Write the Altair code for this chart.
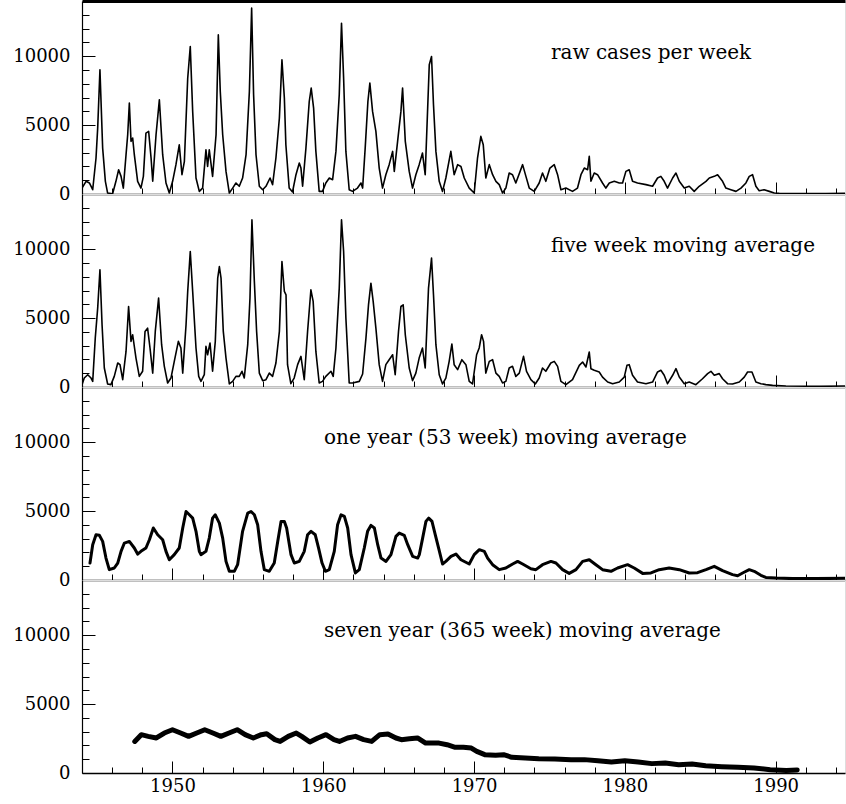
import altair as alt
import pandas as pd

# ---------------- data ----------------
raw_year = [1944.00, 1944.27, 1944.49, 1944.71, 1944.93, 1945.04, 1945.19, 1945.37, 1945.55, 1945.70,
            1946.03, 1946.25, 1946.43, 1946.59, 1946.74, 1946.92, 1947.03, 1947.14, 1947.25, 1947.36,
            1947.47, 1947.69, 1947.91, 1948.07, 1948.24, 1948.42, 1948.58, 1948.69, 1948.91, 1949.13,
            1949.35, 1949.57, 1949.79, 1950.01, 1950.23, 1950.45, 1950.63, 1950.79, 1951.01, 1951.18,
            1951.34, 1951.56, 1951.78, 1952.00, 1952.22, 1952.33, 1952.44, 1952.66, 1952.89, 1953.04,
            1953.17, 1953.33, 1953.55, 1953.77, 1953.99, 1954.21, 1954.43, 1954.65, 1954.88, 1955.10,
            1955.25, 1955.38, 1955.54, 1955.76, 1955.98, 1956.20, 1956.47, 1956.64, 1956.86, 1957.09,
            1957.26, 1957.42, 1957.52, 1957.74, 1957.96, 1958.19, 1958.41, 1958.52, 1958.63, 1958.85,
            1959.07, 1959.20, 1959.36, 1959.51, 1959.73, 1959.95, 1960.17, 1960.40, 1960.62, 1960.84,
            1961.06, 1961.21, 1961.35, 1961.50, 1961.72, 1961.94, 1962.27, 1962.50, 1962.61, 1962.78,
            1962.96, 1963.09, 1963.27, 1963.49, 1963.71, 1963.93, 1964.15, 1964.37, 1964.60, 1964.71,
            1964.93, 1965.15, 1965.26, 1965.44, 1965.70, 1965.92, 1966.14, 1966.36, 1966.58, 1966.76,
            1967.03, 1967.18, 1967.31, 1967.47, 1967.69, 1967.91, 1968.13, 1968.46, 1968.68, 1968.91,
            1969.13, 1969.35, 1969.68, 1970.01, 1970.23, 1970.45, 1970.61, 1970.78, 1971.01, 1971.23,
            1971.45, 1971.67, 1971.89, 1972.11, 1972.33, 1972.55, 1972.77, 1973.22, 1973.44, 1973.66,
            1973.99, 1974.32, 1974.54, 1974.76, 1975.03, 1975.32, 1975.54, 1975.76, 1976.09, 1976.53,
            1976.86, 1977.09, 1977.31, 1977.53, 1977.64, 1977.75, 1977.97, 1978.19, 1978.52, 1978.74,
            1978.97, 1979.30, 1979.63, 1979.85, 1980.07, 1980.29, 1980.51, 1980.84, 1981.40, 1981.84,
            1982.17, 1982.39, 1982.61, 1982.83, 1983.17, 1983.39, 1983.61, 1983.94, 1984.27, 1984.60,
            1984.93, 1985.38, 1985.60, 1985.93, 1986.15, 1986.48, 1986.70, 1987.03, 1987.37, 1987.70,
            1988.03, 1988.25, 1988.47, 1988.69, 1988.91, 1989.24, 1989.58, 1989.91, 1990.24, 1991.12,
            1993.33, 1994.62]
raw_cases = [430, 920, 800, 310, 2610, 4780, 9010, 3330, 920, 70,
             20, 920, 1760, 1280, 430, 2850, 4300, 6590, 3820, 4060,
             2850, 920, 430, 1280, 4420, 4540, 2610, 920, 4300, 6830,
             2850, 800, 70, 920, 2130, 3570, 1400, 2370, 8400, 10700,
             5990, 1160, 190, 430, 3210, 2000, 3210, 1280, 4300, 11540,
             7440, 4300, 1640, 70, 430, 800, 560, 1160, 2850, 7440,
             13480, 7200, 2850, 560, 310, 560, 1160, 680, 2610, 5510,
             9730, 6960, 3570, 430, 145, 1400, 2250, 1880, 560, 3330,
             6710, 7680, 6230, 3090, 190, 190, 800, 1160, 1040, 3090,
             7200, 12390, 8400, 3090, 310, 190, 430, 800, 430, 3330,
             6710, 8040, 5990, 4540, 1880, 430, 1400, 2130, 3090, 1640,
             3820, 5990, 7680, 3820, 1640, 430, 1400, 2130, 2970, 1400,
             9370, 9970, 6470, 3090, 920, 190, 1160, 3090, 1400, 2130,
             2000, 1160, 430, 70, 2610, 4180, 3570, 1160, 2130, 1400,
             920, 680, 70, 430, 1520, 1400, 800, 2130, 1280, 430,
             190, 800, 1520, 920, 1880, 2130, 1400, 310, 430, 190,
             430, 1400, 1880, 1760, 2730, 920, 1520, 1400, 800, 430,
             800, 920, 800, 800, 1640, 1760, 920, 800, 680, 560,
             1160, 1280, 920, 430, 1160, 1520, 920, 430, 560, 190,
             560, 920, 1160, 1280, 1400, 920, 430, 310, 190, 430,
             800, 1280, 1400, 560, 240, 310, 190, 70, 50, 25,
             25, 50]

ma5_year = [1944.00, 1944.15, 1944.38, 1944.60, 1944.71, 1944.88, 1945.04, 1945.19, 1945.33, 1945.48,
            1945.70, 1945.92, 1946.14, 1946.37, 1946.52, 1946.70, 1946.92, 1947.09, 1947.25, 1947.36,
            1947.58, 1947.80, 1948.02, 1948.18, 1948.35, 1948.51, 1948.69, 1948.86, 1949.08, 1949.28,
            1949.46, 1949.68, 1949.90, 1950.12, 1950.39, 1950.56, 1950.68, 1950.90, 1951.01, 1951.18,
            1951.34, 1951.56, 1951.74, 1951.89, 1952.11, 1952.22, 1952.33, 1952.49, 1952.66, 1952.84,
            1953.00, 1953.11, 1953.22, 1953.37, 1953.55, 1953.77, 1953.99, 1954.21, 1954.43, 1954.61,
            1954.76, 1954.99, 1955.14, 1955.27, 1955.43, 1955.58, 1955.76, 1955.98, 1956.20, 1956.42,
            1956.64, 1956.86, 1957.09, 1957.26, 1957.42, 1957.53, 1957.63, 1957.85, 1958.07, 1958.30,
            1958.52, 1958.74, 1958.96, 1959.18, 1959.33, 1959.51, 1959.73, 1959.95, 1960.17, 1960.51,
            1960.66, 1960.84, 1961.06, 1961.21, 1961.35, 1961.50, 1961.72, 1961.94, 1962.39, 1962.61,
            1962.83, 1963.00, 1963.16, 1963.31, 1963.49, 1963.71, 1963.93, 1964.15, 1964.37, 1964.60,
            1964.77, 1964.99, 1965.15, 1965.30, 1965.44, 1965.70, 1965.92, 1966.14, 1966.36, 1966.58,
            1966.76, 1966.98, 1967.18, 1967.31, 1967.47, 1967.69, 1967.91, 1968.13, 1968.35, 1968.53,
            1968.68, 1968.91, 1969.19, 1969.46, 1969.68, 1969.90, 1970.17, 1970.34, 1970.50, 1970.63,
            1970.78, 1971.01, 1971.23, 1971.45, 1971.67, 1971.89, 1972.11, 1972.33, 1972.55, 1972.77,
            1973.00, 1973.28, 1973.48, 1973.77, 1974.06, 1974.32, 1974.54, 1974.76, 1975.09, 1975.32,
            1975.54, 1975.76, 1976.09, 1976.53, 1976.98, 1977.20, 1977.42, 1977.64, 1977.75, 1977.97,
            1978.30, 1978.52, 1978.86, 1979.19, 1979.63, 1979.96, 1980.14, 1980.29, 1980.51, 1980.84,
            1981.40, 1981.84, 1982.17, 1982.39, 1982.61, 1982.83, 1983.17, 1983.39, 1983.61, 1983.94,
            1984.27, 1984.71, 1985.15, 1985.49, 1985.71, 1985.93, 1986.26, 1986.48, 1986.81, 1987.14,
            1987.59, 1987.92, 1988.14, 1988.43, 1988.69, 1989.02, 1989.35, 1989.80, 1990.68, 1992.89,
            1994.62]
ma5_cases = [170, 650, 890, 650, 410, 3550, 5720, 8500, 4520, 1380,
             220, 170, 770, 1740, 1620, 530, 2580, 5840, 3310, 3790,
             2100, 770, 1140, 4030, 4270, 2830, 1010, 4030, 6450, 3070,
             1500, 290, 650, 1860, 3310, 2830, 1010, 4520, 6930, 9830,
             6930, 2830, 770, 410, 890, 2950, 2340, 3190, 1140, 3310,
             7900, 8740, 7900, 4030, 2100, 220, 410, 770, 770, 1140,
             650, 3070, 6450, 12120, 7660, 4030, 1010, 460, 530, 1010,
             770, 1740, 4030, 9100, 6930, 6690, 1620, 240, 650, 1620,
             2220, 530, 4030, 7050, 6210, 2580, 290, 410, 770, 1140,
             770, 2830, 7170, 12120, 9830, 5000, 290, 290, 410, 940,
             3550, 5960, 7530, 6210, 4270, 1620, 410, 1620, 1980, 2340,
             890, 4030, 5840, 5960, 3790, 1380, 460, 1010, 2100, 2830,
             1380, 7170, 9350, 6690, 3070, 890, 220, 650, 1860, 3120,
             1620, 1260, 1980, 1620, 410, 220, 2340, 2830, 3790, 3310,
             1010, 1860, 1980, 1010, 770, 290, 410, 1380, 1500, 770,
             1010, 2220, 1140, 530, 220, 650, 1380, 1140, 1740, 1860,
             1500, 410, 170, 530, 1570, 1810, 1450, 2540, 1330, 1210,
             1090, 720, 360, 240, 360, 720, 1570, 1620, 850, 360,
             240, 360, 1090, 1210, 850, 240, 850, 1330, 720, 240,
             360, 170, 600, 970, 1140, 850, 970, 600, 240, 220,
             360, 720, 1090, 1090, 360, 240, 170, 120, 70, 50,
             70]

ma53_year = [1944.53, 1944.71, 1944.93, 1945.15, 1945.37, 1945.59, 1945.81, 1946.14, 1946.37, 1946.59,
             1946.81, 1947.14, 1947.47, 1947.69, 1947.91, 1948.24, 1948.47, 1948.73, 1949.02, 1949.35,
             1949.57, 1949.79, 1950.12, 1950.45, 1950.68, 1950.90, 1951.12, 1951.34, 1951.56, 1951.78,
             1951.89, 1952.22, 1952.44, 1952.66, 1952.84, 1953.11, 1953.33, 1953.55, 1953.77, 1954.10,
             1954.32, 1954.65, 1954.99, 1955.21, 1955.43, 1955.65, 1955.87, 1956.09, 1956.42, 1956.75,
             1956.98, 1957.20, 1957.42, 1957.57, 1957.86, 1958.08, 1958.41, 1958.74, 1958.96, 1959.19,
             1959.47, 1959.69, 1959.92, 1960.14, 1960.40, 1960.73, 1960.95, 1961.18, 1961.40, 1961.62,
             1961.84, 1962.13, 1962.39, 1962.72, 1962.94, 1963.16, 1963.39, 1963.61, 1963.83, 1964.16,
             1964.49, 1964.82, 1965.04, 1965.37, 1965.60, 1965.93, 1966.26, 1966.37, 1966.59, 1966.81,
             1966.99, 1967.21, 1967.43, 1967.65, 1967.91, 1968.13, 1968.47, 1968.80, 1969.13, 1969.68,
             1970.01, 1970.35, 1970.68, 1970.90, 1971.23, 1971.67, 1972.11, 1972.56, 1972.89, 1973.22,
             1973.77, 1974.10, 1974.54, 1975.10, 1975.43, 1975.87, 1976.31, 1976.76, 1977.20, 1977.64,
             1978.08, 1978.52, 1979.08, 1979.52, 1980.18, 1980.62, 1981.18, 1981.73, 1982.28, 1982.94,
             1983.61, 1984.27, 1984.82, 1985.38, 1985.93, 1986.48, 1987.14, 1987.48, 1987.81, 1988.25,
             1988.58, 1989.02, 1989.35, 1990.02, 1991.12, 1992.67, 1994.62]
ma53_cases = [1230, 2560, 3280, 3240, 2800, 1590, 750, 870, 1230, 2080,
              2680, 2800, 2320, 1880, 2080, 2320, 2920, 3770, 3280, 2920,
              2080, 1470, 1840, 2320, 3770, 4970, 4730, 4490, 3530, 2080,
              1840, 2080, 3040, 4490, 4730, 4130, 3040, 1350, 630, 630,
              1110, 3530, 4850, 4970, 4730, 4010, 2080, 750, 630, 1230,
              2800, 4250, 4250, 3770, 1840, 1230, 1350, 2080, 3280, 3530,
              3280, 2320, 1230, 630, 750, 2080, 4010, 4730, 4610, 3770,
              1840, 510, 750, 2320, 3530, 3960, 3770, 2560, 1590, 1350,
              1840, 3160, 3400, 3240, 2560, 1710, 1590, 1840, 3040, 4250,
              4490, 4250, 3280, 2320, 1160, 1350, 1710, 1880, 1470, 1160,
              1840, 2200, 2080, 1590, 1110, 750, 870, 1160, 1350, 1160,
              820, 750, 1110, 1350, 1230, 750, 480, 750, 1350, 1470,
              1110, 750, 630, 870, 1110, 870, 480, 510, 750, 870,
              750, 510, 530, 750, 990, 680, 390, 310, 510, 750,
              630, 340, 190, 145, 100, 100, 120]

ma365_year = [1947.50, 1947.93, 1948.39, 1948.93, 1949.46, 1950.00, 1950.54, 1951.07, 1951.61, 1952.14,
              1952.68, 1953.21, 1953.75, 1954.29, 1954.82, 1955.36, 1955.89, 1956.25, 1956.79, 1957.14,
              1957.68, 1958.21, 1958.57, 1959.11, 1959.64, 1960.18, 1960.71, 1961.07, 1961.61, 1962.14,
              1962.68, 1963.21, 1963.75, 1964.29, 1964.82, 1965.18, 1965.71, 1966.25, 1966.79, 1967.14,
              1967.68, 1968.21, 1968.75, 1969.29, 1969.82, 1970.18, 1970.71, 1971.43, 1971.96, 1972.50,
              1973.39, 1974.29, 1975.36, 1976.43, 1977.32, 1978.21, 1979.11, 1980.00, 1980.89, 1981.79,
              1982.68, 1983.57, 1984.46, 1985.36, 1986.43, 1987.50, 1988.57, 1989.64, 1990.71, 1991.43]
ma365_cases = [2290, 2780, 2660, 2540, 2900, 3140, 2900, 2660, 2900, 3140,
               2900, 2660, 2900, 3140, 2780, 2540, 2780, 2850, 2420, 2290,
               2660, 2900, 2660, 2250, 2540, 2780, 2420, 2290, 2540, 2660,
               2420, 2290, 2780, 2830, 2540, 2420, 2480, 2540, 2170, 2170,
               2170, 2050, 1860, 1860, 1810, 1570, 1330, 1290, 1330, 1140,
               1090, 1040, 1010, 970, 970, 890, 800, 890, 800, 680,
               720, 600, 650, 530, 460, 410, 360, 240, 190, 220]

panel_labels = ["raw cases per week",
                "five week moving average",
                "one year (53 week) moving average",
                "seven year (365 week) moving average"]
label_year = [1975.1, 1975.1, 1960.05, 1960.05]
label_cases = [10250, 10250, 10300, 10300]

x_major = [1950, 1960, 1970, 1980, 1990]
x_minor = [1946, 1948, 1952, 1954, 1956, 1958, 1962, 1964, 1966, 1968, 1972, 1974,
           1976, 1978, 1982, 1984, 1986, 1988, 1992, 1994]
y_major = [0, 5000, 10000]
y_minor = [1000, 2000, 3000, 4000, 6000, 7000, 8000, 9000, 11000, 12000, 13000]

X_DOMAIN = [1944, 1994.6]
Y_DOMAIN = [0, 14000]

# ---------------- layout / style ----------------
W, H = 763, 193
FONT = "DejaVu Serif"


def panel(years, cases, idx, stroke, last=False, first=False, font=FONT, lab_size=18, txt_size=20):
    df = pd.DataFrame({"year": years, "cases": cases})
    xs = alt.Scale(domain=X_DOMAIN, nice=False, zero=False)
    ys = alt.Scale(domain=Y_DOMAIN, nice=False, zero=False)
    base = alt.Chart(df)

    line = base.mark_line(color="black", strokeWidth=stroke, clip=True,
                          strokeJoin="round", strokeCap="round").encode(
        x=alt.X("year:Q", scale=xs,
                axis=alt.Axis(orient="bottom", values=x_major, labels=last, ticks=False,
                              grid=False, title=None, domainColor="black", domainWidth=1.5,
                              labelFont=font, labelFontSize=lab_size, labelColor="black",
                              labelPadding=4, format="d")),
        y=alt.Y("cases:Q", scale=ys,
                axis=alt.Axis(orient="left", values=y_major, ticks=False, grid=False,
                              title=None, domainColor="black", domainWidth=1.2,
                              labelFont=font, labelFontSize=lab_size, labelColor="black",
                              labelPadding=12, format="d")),
    )

    major = base.mark_line(strokeOpacity=0).encode(
        x=alt.X("year:Q", scale=xs,
                axis=alt.Axis(orient="top", offset=-H, values=x_major, labels=False,
                              domain=False, grid=False, title=None, tickSize=12,
                              tickColor="black", tickWidth=1)),
        y=alt.Y("cases:Q", scale=ys,
                axis=alt.Axis(orient="right", offset=-W, values=y_major, labels=False,
                              domain=False, grid=False, title=None, tickSize=13,
                              tickColor="black", tickWidth=1)),
    )

    minor = base.mark_line(strokeOpacity=0).encode(
        x=alt.X("year:Q", scale=xs,
                axis=alt.Axis(orient="top", offset=-H, values=x_minor, labels=False,
                              domain=False, grid=False, title=None, tickSize=6,
                              tickColor="black", tickWidth=1)),
        y=alt.Y("cases:Q", scale=ys,
                axis=alt.Axis(orient="right", offset=-W, values=y_minor, labels=False,
                              domain=False, grid=False, title=None, tickSize=7,
                              tickColor="black", tickWidth=1)),
    )

    tdf = pd.DataFrame({"year": [label_year[idx]], "cases": [label_cases[idx]],
                        "label": [panel_labels[idx]]})
    top_axis = (alt.Axis(orient="top", labels=False, ticks=False, grid=False, title=None,
                         domainColor="black", domainWidth=3)
                if first else None)
    text = alt.Chart(tdf).mark_text(align="left", baseline="middle", font=font,
                                    fontSize=txt_size, color="black").encode(
        x=alt.X("year:Q", scale=xs, axis=top_axis),
        y=alt.Y("cases:Q", scale=ys, axis=None),
        text="label:N",
    )

    return (alt.layer(line, major, minor, text)
            .resolve_axis(x="independent", y="independent")
            .properties(width=W, height=H))


p1 = panel(raw_year, raw_cases, 0, 1.6, first=True)
p2 = panel(ma5_year, ma5_cases, 1, 1.6)
p3 = panel(ma53_year, ma53_cases, 2, 3.0)
p4 = panel(ma365_year, ma365_cases, 3, 5.0, last=True)

chart = (alt.vconcat(p1, p2, p3, p4, spacing=0)
         .properties(bounds="flush",
                     padding={"left": 12, "top": 0, "right": 0, "bottom": 0})
         .configure_view(stroke=None)
         .configure(background="white"))

chart.save("out.html", embed_options={"renderer": "svg", "actions": False})
